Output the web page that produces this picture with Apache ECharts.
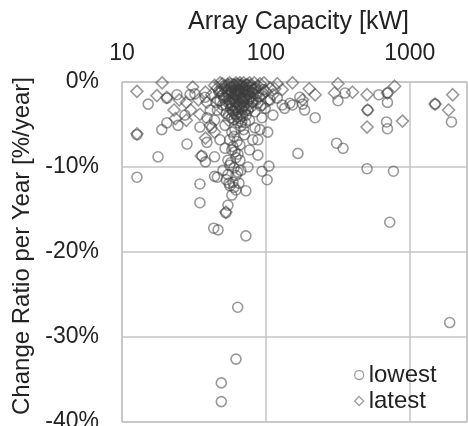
<!DOCTYPE html>
<html>
<head>
<meta charset="utf-8">
<script src="https://cdn.jsdelivr.net/npm/echarts@6/dist/echarts.min.js"></script>
<style>
  html, body { margin: 0; background: #fff; }
  #chart { width: 468px; height: 426px; }
</style>
</head>
<body>
<div id="chart"></div>
<script>
// capacity [kW], change ratio [%/year]
const lowestPoints = [
  [12.7, -6.2], [12.7, -11.2], [15.2, -2.6], [17.8, -8.8], [18.9, -5.6], [20.5, -4.8], [20.5, -1.9],
  [24.1, -1.5], [24.5, -5.1], [28.3, -7.3], [29.7, -1.5], [27.4, -3.9], [34.8, -5.3], [34.8, -12.0],
  [34.8, -14.2], [36, -8.7], [38.9, -7.1], [37.8, -1.8], [32.1, -1.4], [38, -9.4], [44, -8.8],
  [44, -11.1], [43.4, -17.2], [46.5, -17.4], [52.7, -15.4], [50.3, -10.4], [54.5, -10.9], [55.4, -11.9],
  [56.2, -12.2], [63.7, -10.6], [67, -10.4], [72.6, -12.8], [72.6, -18.1], [75, -10], [94, -10.5],
  [102, -11.5], [105, -9.9], [81, -6.8], [88, -6.8], [91, -5.6], [103, -5.9], [112, -3.9], [167, -8.4],
  [220, -4.2], [310, -7.2], [344, -7.8], [505, -10.2], [770, -10.5], [726, -16.5], [690, -4.7],
  [700, -5.5], [1950, -4.7], [355, -1.3], [317, -2.2], [610, -1.5], [700, -1.3], [700, -2.4],
  [510, -3.3], [1500, -2.6], [63.7, -26.5], [1896, -28.3], [62, -32.6], [49, -35.4], [49, -37.6],
  [46, -11.2], [54.5, -9.2], [58, -8], [62, -8.9], [52, -7.8], [48, -6.8], [56, -6.8], [66, -7.4],
  [71, -6.2], [61, -5.6], [52, -5.1], [44, -4.5], [46, -3.3], [77, -4.5], [84, -5.4], [68, -4.7],
  [58, -4.2], [50, -2.7], [41, -3.3], [42, -5.4], [39, -4.2], [94, -4.2], [99, -3.1], [88, -2.5],
  [75, -3.3], [64, -3.5], [55, -2.1], [61, -1.5], [71, -1.9], [80, -1.2], [66, -0.7], [55, -0.9],
  [50, -1.5], [58, -2.7], [70, -2.7], [84, -3.5], [107, -2.1], [120, -1.9], [135, -3.1], [147, -2.5],
  [172, -1.8], [186, -3.3], [56, -9.8], [66, -9.2], [53, -11.5], [58, -13.3], [54.5, -14.5], [62, -12.7],
  [77, -8.0], [88, -8.6], [180, -2.6], [153, -2.7], [130, -2.7],
  [60, -0.3], [64, -1.0], [68, -2.3], [72, -1.1], [76, -2.0], [57, -3.1], [62, -2.4], [66, -3.0],
  [73, -3.9], [79, -2.9], [53, -3.7], [48, -2.2], [59, -1.8], [63, -4.1], [69, -0.5],
  [52, -0.4], [54, -1.2], [56, -2.5], [57, -0.6], [59, -3.4], [60, -1.4], [61, -2.2], [62, -0.9],
  [63, -3.0], [64, -1.7], [65, -0.4], [66, -2.6], [67, -1.3], [68, -3.3], [69, -2.0], [70, -0.9],
  [71, -2.9], [72, -1.6], [73, -0.3], [74, -2.4], [75, -1.0], [76, -3.1], [78, -1.7], [79, -0.6],
  [81, -2.3], [82, -1.4], [85, -0.8], [86, -2.1], [49, -0.8], [51, -1.9], [53, -2.8], [55, -3.9],
  [58, -1.1], [60, -4.4], [62, -3.8], [64, -4.8], [66, -4.3], [67, -5.2], [69, -4.0], [70, -5.6],
  [72, -4.8], [58, -5.9], [60, -6.4], [63, -7.0], [59, -7.6], [61, -8.2], [64, -8.5], [57, -9.5],
  [60, -10.1], [62, -11.0], [59, -11.8], [65, -11.9], [60, -12.4], [47, -1.1], [45, -2.4], [90, -1.7],
  [92, -2.8], [96, -0.9], [58, -0.2], [63, -0.2]
]
const latestPoints = [
  [12.7, -1.1], [19, -0.1], [20.5, -1.8], [17.5, -1.6], [31, -0.6], [12.7, -6.1], [34.8, -3.8],
  [38.9, -2.4], [35.5, -8.7], [52.7, -15.3], [317, -0.2], [300, -1.3], [505, -1.5], [785, -0.5],
  [700, -1.3], [510, -3.3], [505, -5.3], [890, -4.6], [1500, -2.6], [1990, -1.5], [1860, -3.3],
  [153, -0.1], [220, -1.5], [180, -2.1], [130, -0.9], [112, -1.5], [97, -0.1], [44, -0.4], [48, -0.1],
  [52, -0.7], [56, -0.1], [61, -0.5], [66, -0.1], [71, -0.5], [77, -0.1], [84, -0.7], [91, -0.2],
  [42, -1.5], [46, -2.1], [55, -1.5], [64, -1.2], [75, -1.5], [88, -1.2], [50, -3.3], [58, -2.1],
  [68, -1.9], [80, -2.4], [94, -1.5], [38, -1.2], [34, -2.1], [30, -3.3], [25, -2.1], [23, -3.3],
  [28, -2.4], [41, -5.1], [44, -5.9], [38, -6.6], [55, -4.5], [62, -3.1], [71, -3.5], [107, -0.7],
  [120, -0.2], [200, -0.8], [400, -1.2], [23.5, -4.3], [28, -4.5],
  [50, -0.2], [53, -1.0], [54, -0.3], [57, -1.2], [58, -0.6], [60, -1.9], [61, -1.1], [62, -0.1],
  [63, -1.6], [65, -0.9], [66, -1.9], [67, -0.4], [68, -1.2], [70, -0.1], [70, -2.3], [72, -0.8],
  [73, -1.8], [74, -0.3], [76, -1.1], [78, -0.4], [79, -1.9], [81, -0.9], [83, -0.1], [86, -1.6],
  [89, -0.5], [59, -2.8], [64, -2.6], [69, -3.0], [56, -2.3], [52, -1.8], [48, -1.2], [46, -0.7],
  [60, -3.6], [66, -3.9], [100, -1.1], [104, -2.2], [115, -0.8], [95, -2.7]
]
const xTicks = [10, 100, 1000]
const yMin = -40
const yMax = 0
const yStep = 10

const FONT = '"Liberation Sans", Arial, sans-serif'
const TEXT = '#222'
const GRIDLINE = '#c4c4c4'
const MARK = 'rgba(60,60,60,0.66)'

const chart = echarts.init(document.getElementById('chart'))
chart.setOption({
  animation: false,
  textStyle: { fontFamily: FONT },
  grid: {
    left: 122,
    right: 1,
    top: 82,
    bottom: 4,
    outerBoundsMode: 'none',
    show: true,
    borderColor: GRIDLINE,
    borderWidth: 1.5
  },
  xAxis: {
    type: 'log',
    logBase: 10,
    position: 'top',
    min: 10,
    max: 2500,
    name: 'Array Capacity [kW]',
    nameLocation: 'middle',
    nameGap: 47,
    nameTextStyle: { fontSize: 25, color: TEXT, padding: [0, 0, 0, 8] },
    axisLine: { show: false },
    axisTick: { show: false },
    axisLabel: {
      margin: 17,
      fontSize: 23,
      color: TEXT,
      formatter: v => (xTicks.includes(Math.round(v)) ? String(Math.round(v)) : '')
    },
    splitLine: { lineStyle: { color: GRIDLINE, width: 1.5 } }
  },
  yAxis: {
    type: 'value',
    min: yMin,
    max: yMax,
    interval: yStep,
    name: 'Change Ratio per Year [%/year]',
    nameLocation: 'middle',
    nameGap: 88,
    nameTextStyle: { fontSize: 24, color: TEXT, padding: [0, 0, 0, 12] },
    axisLine: { show: false },
    axisTick: { show: false },
    axisLabel: {
      margin: 23,
      fontSize: 23,
      color: TEXT,
      formatter: v => v + '%'
    },
    splitLine: { lineStyle: { color: GRIDLINE, width: 1.5 } }
  },
  legend: {
    orient: 'vertical',
    left: 349,
    top: 358,
    itemWidth: 9,
    itemHeight: 9,
    itemGap: 2,
    textStyle: { fontSize: 24, color: TEXT },
    data: [
      { name: 'lowest', icon: 'circle', itemStyle: { borderColor: '#888', borderWidth: 1.3 } },
      { name: 'latest', icon: 'diamond', itemStyle: { borderColor: '#888', borderWidth: 1.3 } }
    ]
  },
  series: [
    {
      name: 'lowest',
      type: 'scatter',
      symbol: 'circle',
      symbolSize: 10,
      data: lowestPoints,
      itemStyle: { color: 'rgba(0,0,0,0)', borderColor: MARK, borderWidth: 1.6 }
    },
    {
      name: 'latest',
      type: 'scatter',
      symbol: 'diamond',
      symbolSize: 12,
      data: latestPoints,
      itemStyle: { color: 'rgba(0,0,0,0)', borderColor: MARK, borderWidth: 1.6 }
    }
  ]
})
</script>
</body>
</html>
